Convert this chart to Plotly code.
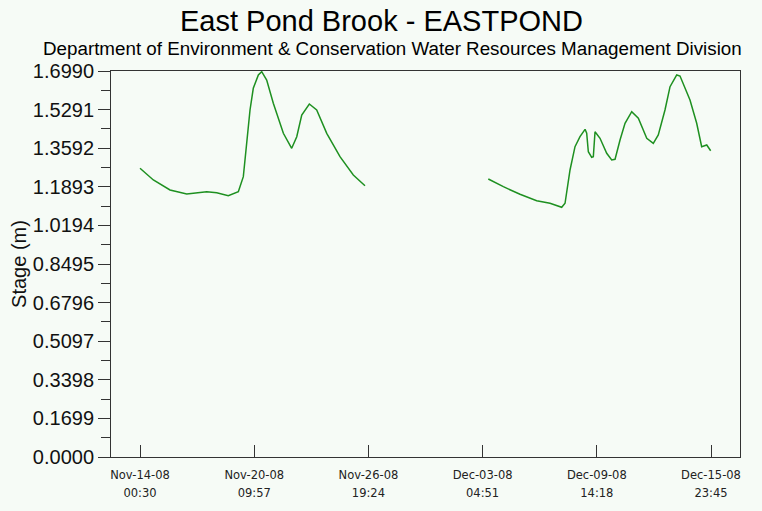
import plotly.graph_objects as go

# Stage readings (m) -- segment 1, gap, segment 2
times = [
    "2008-11-14 00:30", "2008-11-14 18:24", "2008-11-15 16:48", "2008-11-16 15:18",
    "2008-11-17 18:06", "2008-11-18 07:36", "2008-11-18 23:06", "2008-11-19 12:36",
    "2008-11-19 19:18", "2008-11-19 23:54", "2008-11-20 04:18", "2008-11-20 08:42",
    "2008-11-20 15:30", "2008-11-20 20:00", "2008-11-21 02:42", "2008-11-21 11:36",
    "2008-11-22 01:06", "2008-11-22 12:18", "2008-11-22 19:06", "2008-11-23 01:48",
    "2008-11-23 12:00", "2008-11-23 21:54", "2008-11-24 11:24", "2008-11-25 05:12",
    "2008-11-25 23:06", "2008-11-26 14:48",
    "2008-11-30 00:00",
    "2008-12-03 12:30", "2008-12-04 08:42", "2008-12-05 07:06", "2008-12-06 05:30",
    "2008-12-06 23:24", "2008-12-07 15:06", "2008-12-07 19:36", "2008-12-08 02:18",
    "2008-12-08 09:00", "2008-12-08 15:42", "2008-12-08 22:30", "2008-12-09 00:42",
    "2008-12-09 02:54", "2008-12-09 07:24", "2008-12-09 09:36", "2008-12-09 11:54",
    "2008-12-09 18:36", "2008-12-10 03:36", "2008-12-10 10:18", "2008-12-10 14:48",
    "2008-12-10 21:30", "2008-12-11 04:12", "2008-12-11 13:12", "2008-12-11 22:06",
    "2008-12-12 09:24", "2008-12-12 18:12", "2008-12-13 00:54", "2008-12-13 09:54",
    "2008-12-13 16:42", "2008-12-14 01:42", "2008-12-14 06:06", "2008-12-14 19:30",
    "2008-12-15 04:30", "2008-12-15 11:12", "2008-12-15 18:00", "2008-12-15 23:18",
]
stage = [
    1.2707, 1.2192, 1.1752, 1.1576, 1.1677, 1.1634, 1.1501, 1.1677,
    1.2338, 1.3808, 1.5274, 1.6229, 1.6814, 1.6960, 1.6594, 1.5568,
    1.4248, 1.3588, 1.4098, 1.5053, 1.5538, 1.5274, 1.4248, 1.3218,
    1.2413, 1.1942,
    None,
    1.2236, 1.1898, 1.1563, 1.1281, 1.1167, 1.0991, 1.1167, 1.2633,
    1.3658, 1.4098, 1.4424, 1.4248, 1.3438, 1.3192, 1.3218, 1.4318,
    1.4028, 1.3368, 1.3073, 1.3104, 1.3953, 1.4688, 1.5199, 1.4908,
    1.4028, 1.3808, 1.4173, 1.5274, 1.6299, 1.6814, 1.6770, 1.5714,
    1.4688, 1.3658, 1.3733, 1.3482,
]

x_tickvals = ["2008-11-14 00:30", "2008-11-20 09:57", "2008-11-26 19:24",
              "2008-12-03 04:51", "2008-12-09 14:18", "2008-12-15 23:45"]
x_ticklabels = [("Nov-14-08", "00:30"), ("Nov-20-08", "09:57"), ("Nov-26-08", "19:24"),
                ("Dec-03-08", "04:51"), ("Dec-09-08", "14:18"), ("Dec-15-08", "23:45")]
x_range = ["2008-11-12 09:30", "2008-12-17 14:42"]

y_tickvals = [0.0, 0.1699, 0.3398, 0.5097, 0.6796, 0.8495, 1.0194, 1.1893, 1.3592, 1.5291, 1.6990]
y_ticklabels = ["%.4f" % v for v in y_tickvals]

title = "East Pond Brook - EASTPOND"
subtitle = "Department of Environment & Conservation Water Resources Management Division"
y_title = "Stage (m)"

BG = "#F6FBF6"
AX = "#333333"
FONT = "Liberation Sans, Arial, sans-serif"

fig = go.Figure()
fig.add_trace(go.Scatter(
    x=times, y=stage, mode="lines", connectgaps=False,
    line=dict(color="#1E9020", width=1.5), hoverinfo="skip", showlegend=False,
))

ticktext = ["<span style='font-size:11.5px'>%s<br>%s</span>" % t for t in x_ticklabels]

fig.update_layout(
    width=762, height=511,
    margin=dict(l=111, r=22, t=71, b=54, autoexpand=False),
    paper_bgcolor=BG, plot_bgcolor=BG,
    font=dict(family=FONT, color="#111111"),
    showlegend=False,
    annotations=[
        dict(text=title, xref="paper", yref="paper", x=(381 - 111) / 629, y=1 + (71 - 21) / 386,
             xanchor="center", yanchor="middle", showarrow=False,
             font=dict(size=29, family=FONT, color="#000000")),
        dict(text=subtitle, xref="paper", yref="paper", x=(392 - 111) / 629, y=1 + (71 - 48) / 386,
             xanchor="center", yanchor="middle", showarrow=False,
             font=dict(size=18.8, family=FONT, color="#000000")),
    ],
)

fig.update_xaxes(
    type="date", range=x_range,
    tickmode="array", tickvals=x_tickvals, ticktext=ticktext,
    ticks="inside", ticklen=12, tickwidth=1, tickcolor=AX,
    tickfont=dict(size=14, family="DejaVu Sans, sans-serif", color="#222222"),
    ticklabelstandoff=4,
    showline=True, linecolor=AX, linewidth=1, mirror=True,
    showgrid=False, zeroline=False,
)
fig.update_yaxes(
    range=[0, 1.699],
    tickmode="array", tickvals=y_tickvals, ticktext=y_ticklabels,
    ticks="outside", ticklen=12, tickwidth=1, tickcolor=AX,
    tickfont=dict(size=20, family=FONT, color="#111111"),
    minor=dict(tickmode="linear", tick0=0, dtick=0.08495, ticks="outside", ticklen=9,
               tickwidth=1, tickcolor=AX, showgrid=False),
    showline=True, linecolor=AX, linewidth=1, mirror=True,
    showgrid=False, zeroline=False,
    title=dict(text=y_title, font=dict(size=20, family=FONT, color="#111111"), standoff=0),
)

fig.write_html(
    "out.html",
    config={"displayModeBar": False},
    post_script="document.body.style.margin='0px';document.body.style.background='%s';" % BG,
)
